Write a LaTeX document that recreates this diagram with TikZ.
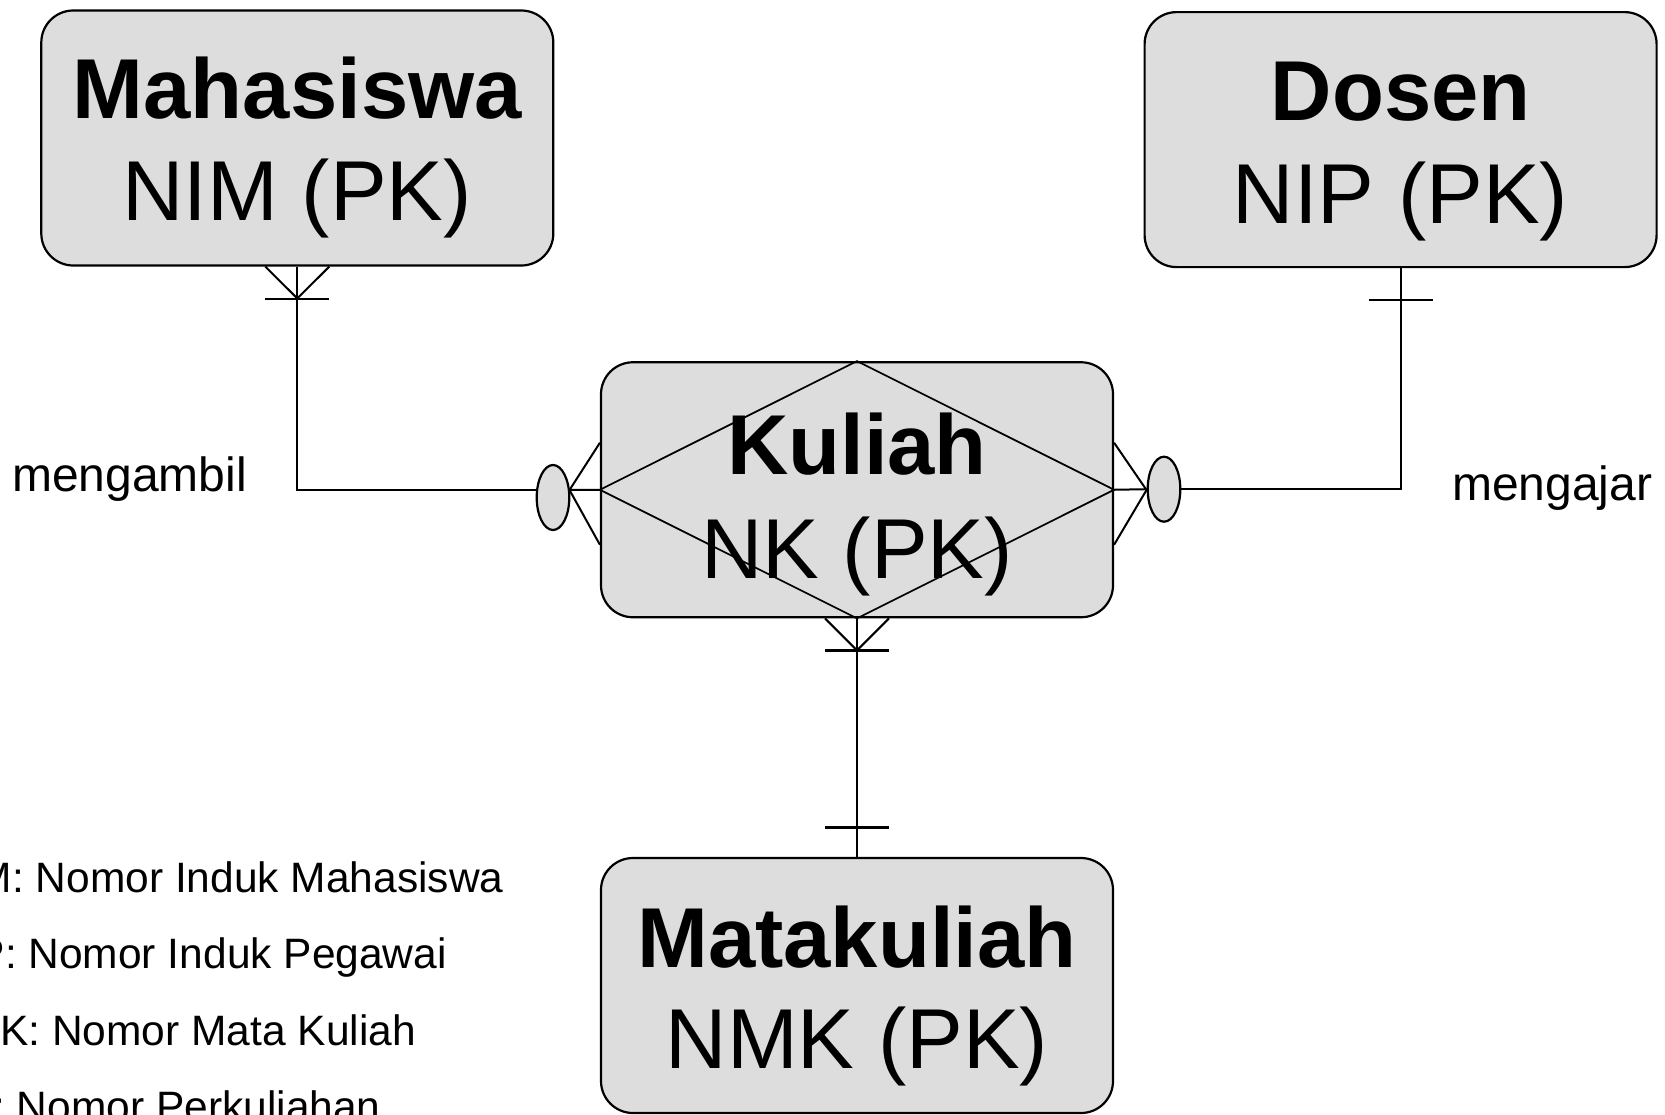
\documentclass[tikz,border=0pt]{standalone}
\usepackage{fontspec}
\setmainfont{Liberation Sans}
\usetikzlibrary{shapes.geometric,calc}
\definecolor{boxgray}{HTML}{DDDDDD}
\begin{document}
\begin{tikzpicture}[x=1pt,y=-1pt,
  entity/.style={draw=black, line width=2.2pt, fill=boxgray, rounded corners=32pt,
    minimum width=512pt, minimum height=255pt, inner sep=0pt},
  title/.style={font=\fontsize{85}{100}\selectfont\bfseries, inner sep=0pt, anchor=base},
  keytext/.style={font=\fontsize{85}{100}\selectfont, inner sep=0pt, anchor=base},
  label/.style={font=\fontsize{48}{56}\selectfont, inner sep=0pt, anchor=base west},
  legend/.style={font=\fontsize{42.5}{50}\selectfont, inner sep=0pt, anchor=base west},
  conn/.style={draw=black, line width=2pt},
  bar/.style={draw=black, line width=2.4pt},
  ell/.style={draw=black, ellipse, fill=boxgray, line width=2.2pt, inner sep=0pt,
    minimum width=32.6pt, minimum height=65pt}]
\useasboundingbox (0,0) rectangle (1665,1114);
\clip (0,0) rectangle (1665,1114);

% entity boxes
\node[entity] (mhs) at (297.3,138) {};
\node[entity] (dos) at (1400.6,139.6) {};
\node[entity] (kul) at (857,489.75) {};
\node[entity] (mk) at (857,985.5) {};

% diamond inside Kuliah
\draw[line width=1.7pt] (kul.north) -- (kul.east) -- (kul.south) -- (kul.west) -- cycle;

% texts
\node[title] (mhsT) at (297.3,118.3) {Mahasiswa};
\node[keytext] (mhsK) at (297.3,220.7) {NIM (PK)};
\node[title] (dosT) at (1400.6,120.5) {Dosen};
\node[keytext] (dosK) at (1400.6,223) {NIP (PK)};
\node[title] (kulT) at (857,474.7) {Kuliah};
\node[keytext] (kulK) at (857,578.5) {NK (PK)};
\node[title] (mkT) at (857,967.3) {Matakuliah};
\node[keytext] (mkK) at (857,1068.3) {NMK (PK)};

% relationship labels
\node[label] (lab1) at (12,491.7) {mengambil};
\node[label] (lab2) at (1452,500) {mengajar};

% legend
\node[legend] (leg1) at (-66,892.7) {NIM: Nomor Induk Mahasiswa};
\node[legend] (leg2) at (-66,968) {NIP: Nomor Induk Pegawai};
\node[legend] (leg3) at (-66,1045) {NMK: Nomor Mata Kuliah};
\node[legend] (leg4) at (-66,1121.5) {NK: Nomor Perkuliahan};

% optional ellipses
\node[ell] (le) at (553,497.5) {};
\node[ell] (re) at (1164,489.2) {};

% apex coordinates
\coordinate (mA) at ($(mhs.south)+(0,31.8)$);
\coordinate (dA) at ($(dos.south)+(0,31.5)$);
\coordinate (kA) at ($(kul.south)+(0,32)$);
\coordinate (lA) at (569.5,490);
\coordinate (rA) at (1146.5,490);

% Mahasiswa -- Kuliah
\draw[conn] ($(mhs.south)+(-32,0)$) -- (mA) -- ($(mhs.south)+(32,0)$);
\draw[bar] ($(mA)+(-32,0.8)$) -- ($(mA)+(32,0.8)$);
\draw[conn] (mhs.south) -- (mA) |- ($(le.west)+(0,-7.5)$);
\draw[conn] ($(kul.west)+(0,-47)$) -- (lA) -- ($(kul.west)+(0,55)$);
\draw[conn] (lA) -- (kul.west);

% Dosen -- Kuliah
\draw[conn] (dos.south) -- (dA) |- (re.east);
\draw[bar] ($(dA)+(-32,0)$) -- ($(dA)+(32,0)$);
\draw[conn] ($(kul.east)+(0,-47)$) -- (rA) -- ($(kul.east)+(0,55)$);
\draw[conn] (kul.east) -- (re.west);

% Kuliah -- Matakuliah
\draw[conn] (kul.south) -- (mk.north);
\draw[conn] ($(kul.south)+(-32,0)$) -- (kA) -- ($(kul.south)+(32,0)$);
\draw[bar] ($(kA)+(-32,0)$) -- ($(kA)+(32,0)$);
\draw[bar] ($(mk.north)+(-32,-29.5)$) -- ($(mk.north)+(32,-29.5)$);
\end{tikzpicture}
\end{document}
